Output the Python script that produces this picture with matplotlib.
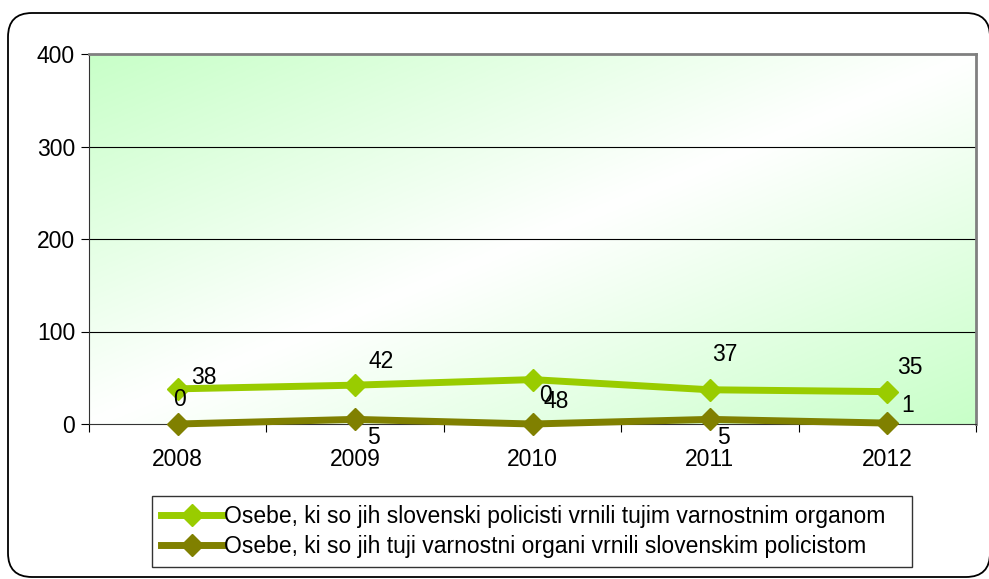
import numpy as np
import matplotlib.pyplot as plt
from matplotlib.patches import FancyBboxPatch
from matplotlib.colors import LinearSegmentedColormap
from matplotlib.transforms import IdentityTransform

# Podatki
leta = ['2008', '2009', '2010', '2011', '2012']
vrnjeni_tujim = [38, 42, 48, 37, 35]
vrnjeni_slovenskim = [0, 5, 0, 5, 1]
oznaka_1 = 'Osebe, ki so jih slovenski policisti vrnili tujim varnostnim organom'
oznaka_2 = 'Osebe, ki so jih tuji varnostni organi vrnili slovenskim policistom'

# zamiki oznak vrednosti (v pikah)
zamik_1 = [(26, 11), (26, 24), (24, -22), (15, 35), (23, 24)]
zamik_2 = [(2, 24), (18, -18), (13, 28), (14, -18), (20, 18)]

plt.rcParams['font.family'] = ['Liberation Sans', 'DejaVu Sans']

fig = plt.figure(figsize=(9.89, 5.79), dpi=100, facecolor='white')

# okvir (v pikah)
okvir = FancyBboxPatch((8, 2), 982, 564,
                       boxstyle='round,pad=0,rounding_size=24',
                       transform=IdentityTransform(), facecolor='white',
                       edgecolor='black', linewidth=1.3, zorder=-5)
fig.patches.append(okvir)

W, H = 989, 579
ax = fig.add_axes([89 / W, 1 - 424 / H, 887 / W, 370 / H])
ax.set_facecolor('white')

# gradient ozadje
cmap = LinearSegmentedColormap.from_list('g', ['#c8ffc8', '#ffffff', '#c8ffc8'])
gx, gy = np.meshgrid(np.linspace(0, 1, 300), np.linspace(0, 1, 300))
grad = (gx + gy) / 2
ax.imshow(grad, cmap=cmap, extent=[0, 1, 0, 1], transform=ax.transAxes,
          origin='upper', aspect='auto', zorder=0)

x = np.arange(len(leta))
ax.set_xlim(-0.5, len(leta) - 0.5)
ax.set_ylim(0, 400)
ax.set_yticks([0, 100, 200, 300, 400])
for yv in [100, 200, 300]:
    ax.axhline(yv, color='black', linewidth=0.8, zorder=1)

l1, = ax.plot(x, vrnjeni_tujim, color='#99cc00', linewidth=5, marker='D',
              markersize=11, zorder=3, label=oznaka_1)
l2, = ax.plot(x, vrnjeni_slovenskim, color='#808000', linewidth=5, marker='D',
              markersize=11, zorder=3, label=oznaka_2, clip_on=False)

for i in range(len(leta)):
    ax.annotate(str(vrnjeni_tujim[i]), (x[i], vrnjeni_tujim[i]), xytext=zamik_1[i],
                textcoords='offset pixels', ha='center', va='center', fontsize=16.5, zorder=5)
    ax.annotate(str(vrnjeni_slovenskim[i]), (x[i], vrnjeni_slovenskim[i]), xytext=zamik_2[i],
                textcoords='offset pixels', ha='center', va='center', fontsize=16.5, zorder=5)

ax.set_xticks(x)
ax.set_xticklabels(leta)
ax.set_xticks(np.arange(-0.5, len(leta)), minor=True)
ax.tick_params(axis='x', which='major', length=0, labelsize=16.5, pad=17)
ax.tick_params(axis='x', which='minor', length=6, width=0.8, direction='out')
ax.tick_params(axis='y', length=6, width=0.8, labelsize=16.5, pad=4)

ax.spines['top'].set_color('#808080')
ax.spines['top'].set_linewidth(2)
ax.spines['right'].set_color('#808080')
ax.spines['right'].set_linewidth(2)
ax.spines['left'].set_color('#333333')
ax.spines['bottom'].set_color('#333333')

leg = fig.legend(handles=[l1, l2], loc='lower left',
                 bbox_to_anchor=(152 / W, 1 - 567 / H, 760 / W, 70 / H),
                 mode='expand', frameon=True, fancybox=False, edgecolor='black',
                 prop={'size': 16.5}, handlelength=2.7,
                 handletextpad=0.05, borderpad=0.4, labelspacing=0.3, borderaxespad=0)
leg.get_frame().set_linewidth(1.0)

plt.savefig('out.png', dpi=100, facecolor='white')
